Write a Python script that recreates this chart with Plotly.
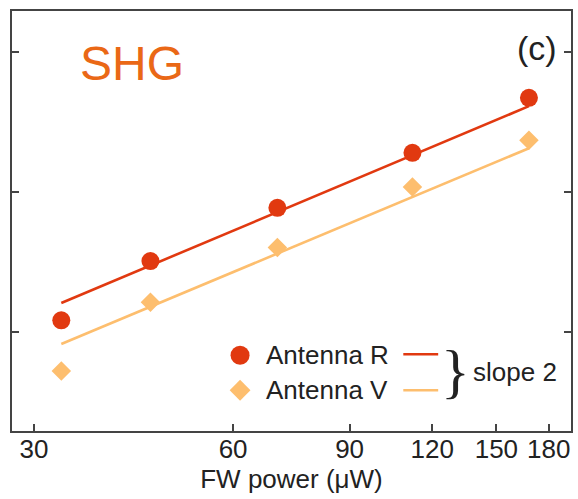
import plotly.graph_objects as go

# ---- data ----
power_uw = [33, 45, 70, 112, 168]
shg_R = [12.1, 32.1, 77.2, 191, 473]
shg_V = [5.26, 16.3, 40.2, 109, 235]

fit_x = [33, 168]
fit_R = [16.1, 412]
fit_V = [8.2, 206]

x_ticks = [30, 60, 90, 120, 150, 180]
y_ticks = [10, 100, 1000]

RED = "rgb(225,57,16)"
YEL = "rgb(253,190,110)"
ORANGE = "rgb(234,104,22)"
FONT = "Liberation Sans, Arial, sans-serif"
TXT = "#222222"

fig = go.Figure()

fig.add_trace(go.Scatter(x=fit_x, y=fit_R, mode="lines",
                         line=dict(color=RED, width=2.6), showlegend=False))
fig.add_trace(go.Scatter(x=fit_x, y=fit_V, mode="lines",
                         line=dict(color=YEL, width=2.6), showlegend=False))
fig.add_trace(go.Scatter(x=power_uw, y=shg_R, mode="markers",
                         marker=dict(symbol="circle", size=18, color=RED),
                         showlegend=False))
fig.add_trace(go.Scatter(x=power_uw, y=shg_V, mode="markers",
                         marker=dict(symbol="diamond", size=15, color=YEL),
                         showlegend=False))

# custom legend markers on an overlay axis spanning the plot area
fig.add_trace(go.Scatter(x=[0.408], y=[0.1804], mode="markers", xaxis="x2", yaxis="y2",
                         marker=dict(symbol="circle", size=19, color=RED), showlegend=False))
fig.add_trace(go.Scatter(x=[0.408], y=[0.097], mode="markers", xaxis="x2", yaxis="y2",
                         marker=dict(symbol="diamond", size=16, color=YEL), showlegend=False))

shapes = [
    dict(type="line", xref="paper", yref="paper", x0=0.700, x1=0.7624, y0=0.1827, y1=0.1827,
         line=dict(color=RED, width=2.6)),
    dict(type="line", xref="paper", yref="paper", x0=0.700, x1=0.7624, y0=0.097, y1=0.097,
         line=dict(color=YEL, width=2.6)),
]

annotations = [
    dict(text="SHG", x=0.2148, y=0.875, xref="paper", yref="paper", showarrow=False,
         xanchor="center", yanchor="middle", font=dict(family=FONT, size=48, color=ORANGE)),
    dict(text="(c)", x=0.9385, y=0.913, xref="paper", yref="paper", showarrow=False,
         xanchor="center", yanchor="middle", font=dict(family=FONT, size=34, color=TXT)),
    dict(text="Antenna R", x=0.451, y=0.1804, xref="paper", yref="paper", showarrow=False,
         xanchor="left", yanchor="middle", font=dict(family=FONT, size=26, color=TXT)),
    dict(text="Antenna V", x=0.451, y=0.097, xref="paper", yref="paper", showarrow=False,
         xanchor="left", yanchor="middle", font=dict(family=FONT, size=26, color=TXT)),
    dict(text="}", x=0.7932, y=0.143, xref="paper", yref="paper", showarrow=False,
         xanchor="center", yanchor="middle",
         font=dict(family="Liberation Serif, Times New Roman, serif", size=60, color=TXT)),
    dict(text="slope 2", x=0.8217, y=0.1399, xref="paper", yref="paper", showarrow=False,
         xanchor="left", yanchor="middle", font=dict(family=FONT, size=26, color=TXT)),
]

fig.update_layout(
    width=578, height=499,
    margin=dict(l=12, r=5, t=11, b=68),
    paper_bgcolor="white", plot_bgcolor="white",
    font=dict(family=FONT, size=26, color=TXT),
    shapes=shapes, annotations=annotations,
    xaxis=dict(type="log", range=[1.44399, 2.28887],
               tickvals=x_ticks, ticktext=[str(v) for v in x_ticks],
               ticks="inside", ticklen=7, tickwidth=1.5, tickcolor="#444",
               ticklabelstandoff=-6,
               showline=True, linecolor="#444", linewidth=1.6, mirror=True,
               showgrid=False, zeroline=False,
               tickfont=dict(family=FONT, size=26, color=TXT),
               title=dict(text="FW power (μW)", standoff=4,
                          font=dict(family=FONT, size=26, color=TXT))),
    yaxis=dict(type="log", range=[0.2913, 3.2956],
               tickvals=y_ticks, showticklabels=False,
               ticks="inside", ticklen=7, tickwidth=1.5, tickcolor="#444",
               showline=True, linecolor="#444", linewidth=1.6, mirror="ticks",
               showgrid=False, zeroline=False),
    xaxis2=dict(overlaying="x", range=[0, 1], visible=False),
    yaxis2=dict(overlaying="y", range=[0, 1], visible=False),
)

fig.write_html(
    "out.html",
    config={"displayModeBar": False},
    post_script="document.body.style.margin='0px';document.body.style.overflow='hidden';",
)
